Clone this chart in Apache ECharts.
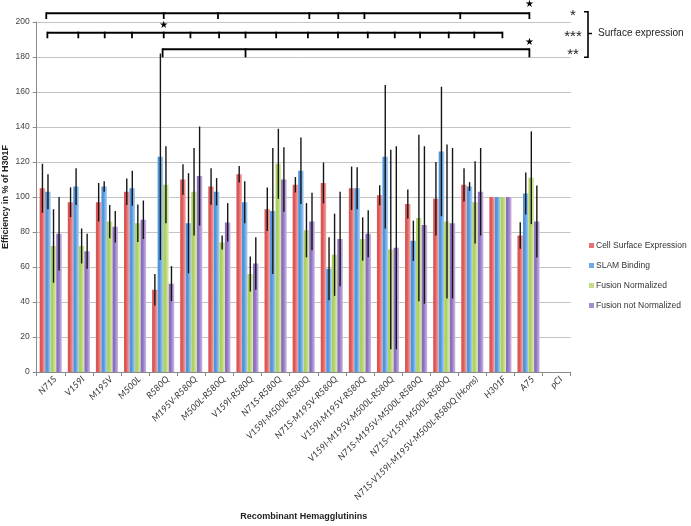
<!DOCTYPE html>
<html>
<head>
<meta charset="utf-8">
<script src="https://cdn.jsdelivr.net/npm/echarts@6/dist/echarts.min.js"></script>
<style>
html,body{margin:0;padding:0;background:#fff;}
#c{width:691px;height:526px;}
</style>
</head>
<body>
<div id="c"></div>
<script>
// ---------- data ----------
const categories = ['N71S','V159I','M195V','M500L','R580Q','M195V-R580Q','M500L-R580Q','V159I-R580Q','N71S-R580Q','V159I-M500L-R580Q','N71S-M195V-R580Q','V159I-M195V-R580Q','V159I-M195V-M500L-R580Q','N71S-M195V-M500L-R580Q','N71S-V159I-M500L-R580Q','N71S-V159I-M195V-M500L-R580Q (Hcons)','H301F','A75','pCI'];
const seriesNames = ['Cell Surface Expression','SLAM Binding','Fusion Normalized','Fusion not Normalized'];

const surface      = [105, 97, 97, 103, 47, 110, 106, 113, 93, 107, 108, 105, 101, 96, 99, 107, 100, 78, null];
const surfaceErr   = [14, 8.5, 11, 7.6, 9, 8.7, 10.4, 4.7, 12.4, 4.4, 11.7, 12.4, 5.7, 8.3, 21, 9.5, 0, 7.6, null];
const slam         = [103, 106, 106, 105, 123, 85, 103, 97, 92, 115, 59, 105, 123, 75, 126, 106, 100, 102, null];
const slamErr      = [10, 10.5, 3, 10, 59, 28.6, 7.8, 12, 36, 19, 18, 12, 41, 11.5, 37, 2.5, 0, 12, null];
const fusionNorm   = [72, 72, 86, 85, 107, 103, 74, 56, 119, 81, 67, 76, 70, 88, 86, 97, 100, 111, null];
const fusionNormErr= [21, 10, 9.5, 10.7, 22, 25, 4, 10, 20, 15.5, 23.5, 12.4, 57, 47.6, 44, 23.5, 0, 26.5, null];
const fusionNot    = [79, 69, 83, 87, 50.5, 112, 85.5, 62, 110, 86, 76, 79, 71, 84, 85, 103, 100, 86, null];
const fusionNotErr = [21, 10, 9, 11, 10, 28.3, 11, 15, 18.4, 16.4, 27, 13.4, 58, 45, 43, 25, 0, 20.6, null];

const yTicks = {min: 0, max: 200, interval: 20};

// significance brackets: category positions (index units) and value levels
const sig1Ticks = [-0.16, 4.02, 5.95, 9.2, 10.23, 11.16, 14.57, 17.03];
const sig1Level = [205, 201.7];
const sig1Star = [17.03, 210];
const sig2Ticks = [-0.12, 0.98, 1.92, 2.89, 4.02, 4.97, 5.99, 6.93, 8.02, 9.15, 10.22, 11.28, 12.24, 13.14, 14.16, 15.07, 16.07];
const sig2Level = [193.9, 190.7];
const sig2Star = [4.02, 198];
const sig3Ticks = [3.98, 6.93, 17.03];
const sig3Level = [184.4, 179.8];
const sig3Star = [17.03, 188.5];
const sigLabels = ['*', '***', '**'];
const groupLabel = 'Surface expression';

// ---------- chart ----------
const values = [surface, slam, fusionNorm, fusionNot];
const errors = [surfaceErr, slamErr, fusionNormErr, fusionNotErr];
const dark  = ['#dc5656', '#4e95dc', '#aed05e', '#8d6fc0'];
const light = ['#f5adad', '#aed2f3', '#dcecb5', '#cbbae6'];
const solid = ['#e57373', '#6eaae6', '#c2dd86', '#a58bd0'];
const BAR_FRAC = 0.197;

const chart = echarts.init(document.getElementById('c'), null, {renderer: 'canvas'});

const series = [];
values.forEach((vals, k) => {
  series.push({
    name: seriesNames[k],
    type: 'bar',
    data: vals,
    barWidth: (BAR_FRAC * 100) + '%',
    barGap: '0%',
    itemStyle: {
      color: new echarts.graphic.LinearGradient(0, 0, 1, 0, [
        {offset: 0, color: dark[k]},
        {offset: 0.35, color: dark[k]},
        {offset: 1, color: light[k]}
      ])
    },
    emphasis: {disabled: true},
    z: 2
  });
});
values.forEach((vals, k) => {
  const data = [];
  vals.forEach((v, i) => {
    const e = errors[k][i];
    if (v != null && e) data.push([i, v - e, v + e]);
  });
  series.push({
    type: 'custom',
    name: 'err' + k,
    data: data,
    encode: {x: 0, y: [1, 2]},
    z: 5,
    silent: true,
    renderItem: function (params, api) {
      const band = api.size([1, 0])[0];
      const off = (k - 1.5) * BAR_FRAC * band;
      const lo = api.coord([api.value(0), api.value(1)]);
      const hi = api.coord([api.value(0), api.value(2)]);
      return {
        type: 'line',
        shape: {x1: lo[0] + off, y1: lo[1], x2: hi[0] + off, y2: hi[1]},
        style: {stroke: '#151515', lineWidth: 1.4}
      };
    }
  });
});

chart.setOption({
  animation: false,
  backgroundColor: '#fff',
  grid: {left: 36.7, right: 120.3, top: 22, bottom: 154, containLabel: false, outerBoundsMode: 'none'},
  legend: {
    data: seriesNames.map((n, k) => ({name: n, itemStyle: {color: solid[k]}})),
    orient: 'vertical',
    left: 589,
    top: 240,
    padding: 0,
    itemWidth: 5,
    itemHeight: 5,
    itemGap: 9,
    icon: 'rect',
    selectedMode: false,
    textStyle: {fontFamily: 'Liberation Sans', fontSize: 8.5, color: '#333', lineHeight: 11, padding: [0, 0, 0, -3]}
  },
  xAxis: {
    type: 'category',
    data: categories,
    name: 'Recombinant Hemagglutinins',
    nameLocation: 'middle',
    nameGap: 140,
    nameMoveOverlap: false,
    nameTextStyle: {fontFamily: 'Liberation Sans', fontWeight: 'bold', fontSize: 9, color: '#222'},
    axisLine: {lineStyle: {color: '#8a8a8a'}},
    axisTick: {show: true, length: 4, lineStyle: {color: '#8a8a8a'}},
    axisLabel: {
      interval: 0, rotate: 45, fontFamily: 'Lato', fontStyle: 'italic',
      fontSize: 9, color: '#333', margin: 10, padding: [0, -6, 0, 0]
    },
    splitLine: {show: false}
  },
  yAxis: {
    type: 'value',
    min: yTicks.min, max: yTicks.max, interval: yTicks.interval,
    name: 'Efficiency in % of H301F',
    nameLocation: 'middle',
    nameGap: 27,
    nameMoveOverlap: false,
    nameTextStyle: {fontFamily: 'Liberation Sans', fontWeight: 'bold', fontSize: 9, color: '#222'},
    axisLine: {show: true, lineStyle: {color: '#8a8a8a'}},
    axisTick: {show: true, length: 4, lineStyle: {color: '#8a8a8a'}},
    axisLabel: {fontFamily: 'Liberation Sans', fontSize: 8.5, color: '#444', margin: 7},
    splitLine: {lineStyle: {color: '#c4c4c4', width: 1}}
  },
  series: series
});

// ---------- significance annotations ----------
function px(idx) {
  const p0 = chart.convertToPixel({xAxisIndex: 0}, 0);
  const p1 = chart.convertToPixel({xAxisIndex: 0}, 1);
  return p0 + idx * (p1 - p0);
}
function py(v) { return chart.convertToPixel({yAxisIndex: 0}, v); }

const g = [];
function bracket(ticks, level, star) {
  const yl = py(level[0]), yt = py(level[1]);
  g.push({type: 'line', shape: {x1: px(ticks[0]), y1: yl, x2: px(ticks[ticks.length - 1]), y2: yl},
          style: {stroke: '#000', lineWidth: 2}, z: 10});
  ticks.forEach(t => {
    g.push({type: 'line', shape: {x1: px(t), y1: yl - 1, x2: px(t), y2: yt},
            style: {stroke: '#000', lineWidth: 1.8}, z: 10});
  });
  g.push({type: 'text', x: px(star[0]), y: py(star[1]),
          style: {text: '★', fontSize: 10, fill: '#000', align: 'center', verticalAlign: 'middle', fontFamily: 'DejaVu Sans'}, z: 10});
}
bracket(sig1Ticks, sig1Level, sig1Star);
bracket(sig2Ticks, sig2Level, sig2Star);
bracket(sig3Ticks, sig3Level, sig3Star);

const labelY = [py(sig1Level[0]) + 3, py(sig2Level[0]) + 4, py(sig3Level[0]) + 6];
sigLabels.forEach((t, i) => {
  g.push({type: 'text', x: 573, y: labelY[i],
          style: {text: t, fontSize: 15, fill: '#222', align: 'center', verticalAlign: 'middle', fontFamily: 'Liberation Sans'}, z: 10});
});
// big bracket
const bx = 588, bTop = 11.7, bBot = 57.3, bMid = 33.5;
g.push({type: 'polyline', shape: {points: [[bx - 4, bTop], [bx, bTop], [bx, bBot], [bx - 4, bBot]]},
        style: {stroke: '#000', lineWidth: 1.6, fill: null}, z: 10});
g.push({type: 'line', shape: {x1: bx, y1: bMid, x2: bx + 4, y2: bMid}, style: {stroke: '#000', lineWidth: 1.4}, z: 10});
g.push({type: 'text', x: 598, y: bMid,
        style: {text: groupLabel, fontSize: 10, fill: '#222', align: 'left', verticalAlign: 'middle', fontFamily: 'Liberation Sans'}, z: 10});

chart.setOption({graphic: g});
</script>
</body>
</html>
